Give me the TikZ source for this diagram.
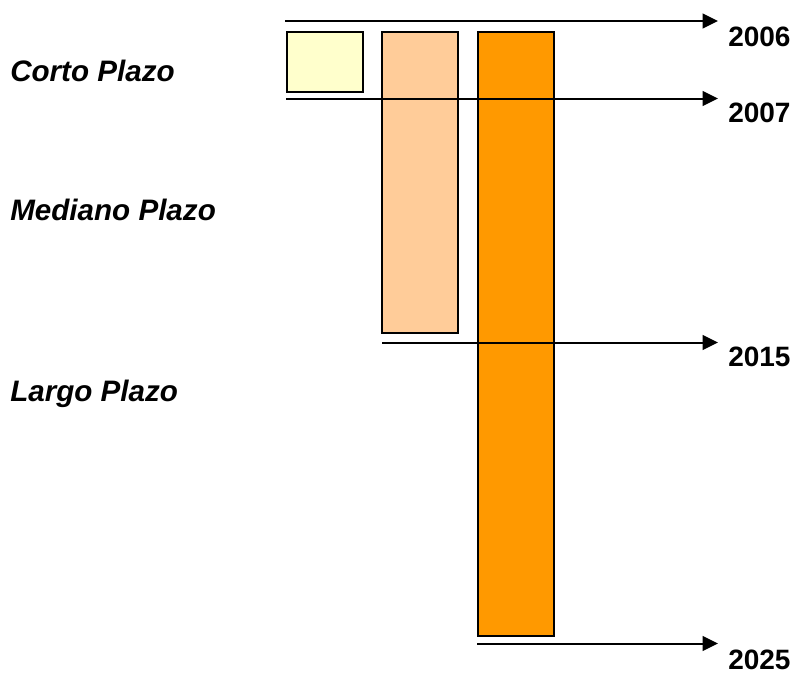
\documentclass[tikz,border=0pt]{standalone}
\usepackage{fontspec}
\setmainfont{Liberation Sans}
\usetikzlibrary{arrows.meta}
\definecolor{shortc}{HTML}{FFFFCC}
\definecolor{midc}{HTML}{FFCC99}
\definecolor{longc}{HTML}{FF9900}
\begin{document}
\begin{tikzpicture}[x=0.75pt,y=-0.75pt,
  bar/.style={draw=black,line width=1.6pt,inner sep=0pt,anchor=north west},
  timeline/.style={line width=1.5pt,-{Triangle[length=11.5pt,width=11pt]}},
  year/.style={font=\fontsize{21}{24}\selectfont\bfseries,anchor=west,inner sep=0pt},
  term/.style={font=\fontsize{22.2}{24}\selectfont\bfseries\itshape,anchor=west,inner sep=0pt}]
\useasboundingbox (0,0) rectangle (798,675);

% horizon bars
\node[bar,fill=shortc,minimum width=57pt,minimum height=45pt] (b1) at (286,31) {};
\node[bar,fill=midc,minimum width=57pt,minimum height=226pt] (b2) at (381,31) {};
\node[bar,fill=longc,minimum width=57pt,minimum height=453pt] (b3) at (477,31) {};

% start / end points of the timelines
\coordinate (s06) at (285,21);
\coordinate (e06) at (718,21);
\coordinate (s07) at (286,98.5);
\coordinate (e07) at (718,98.5);
\coordinate (s15) at (382,342.5);
\coordinate (e15) at (718,342.5);
\coordinate (s25) at (477,643.5);
\coordinate (e25) at (718,643.5);

\draw[timeline] (s06) -- (e06);
\draw[timeline] (s07) -- (e07);
\draw[timeline] (s15) -- (e15);
\draw[timeline] (s25) -- (e25);

% year labels
\node[year] (y06) at (728,37) {2006};
\node[year] (y07) at (728,113) {2007};
\node[year] (y15) at (728,357) {2015};
\node[year] (y25) at (728,660) {2025};

% horizon labels
\node[term] (t1) at (10,71) {Corto Plazo};
\node[term] (t2) at (10,210) {Mediano Plazo};
\node[term] (t3) at (10,394) {Largo Plazo};
\end{tikzpicture}
\end{document}
